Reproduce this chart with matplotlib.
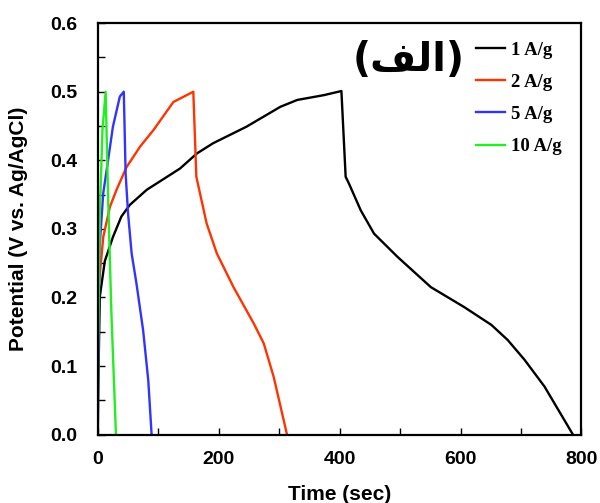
import numpy as np
import matplotlib
matplotlib.use("Agg")
import matplotlib.pyplot as plt
from matplotlib.ticker import MultipleLocator

# galvanostatic charge/discharge curves
t_1 = [0, 0.5, 3.3, 11.6, 25, 39, 53, 81, 136, 164, 191, 246, 302, 330, 374, 403,
       410, 415.5, 435, 457, 496, 551, 606, 651, 678, 706, 739, 786]
v_1 = [0, 0.055, 0.201, 0.253, 0.288, 0.318, 0.335, 0.357, 0.388, 0.41, 0.425, 0.449, 0.478, 0.488, 0.495, 0.501,
       0.376, 0.366, 0.327, 0.293, 0.259, 0.215, 0.186, 0.160, 0.138, 0.109, 0.070, 0.0]

t_2 = [0, 0.5, 9, 20, 31, 47.5, 70, 92, 125, 158,
       163, 169, 180, 197, 224.5, 258, 274.5, 291, 313]
v_2 = [0, 0.206, 0.288, 0.332, 0.357, 0.39, 0.42, 0.444, 0.485, 0.5,
       0.376, 0.352, 0.308, 0.264, 0.215, 0.162, 0.133, 0.084, 0.0]

t_5 = [0, 0.5, 3, 9, 17, 25, 36.5, 43, 46, 50, 56, 64, 75, 83.5, 89]
v_5 = [0, 0.08, 0.274, 0.352, 0.40, 0.449, 0.493, 0.5, 0.381, 0.323, 0.264, 0.22, 0.152, 0.079, 0.0]

t_10 = [0, 0.5, 3.3, 7.7, 13, 17, 22.5, 30]
v_10 = [0, 0.128, 0.32, 0.444, 0.5, 0.347, 0.177, 0.0]

labels = ["1 A/g", "2 A/g", "5 A/g", "10 A/g"]
colors = ["black", "#ff3300", "#3333ff", "#22ee22"]

fig = plt.figure(figsize=(6, 5.03), dpi=100)
ax = fig.add_axes([0.163, 0.136, 0.806, 0.818])

for t, v, lab, c in zip([t_1, t_2, t_5, t_10], [v_1, v_2, v_5, v_10], labels, colors):
    ax.plot(t, v, color=c, lw=1.7, label=lab)

ax.set_xlim(0, 800)
ax.set_ylim(0, 0.6)
ax.xaxis.set_major_locator(MultipleLocator(200))
ax.xaxis.set_minor_locator(MultipleLocator(100))
ax.yaxis.set_major_locator(MultipleLocator(0.1))
ax.yaxis.set_minor_locator(MultipleLocator(0.05))
ax.yaxis.set_major_formatter(matplotlib.ticker.FormatStrFormatter("%.1f"))
ax.tick_params(which="both", direction="in", length=5, width=1)
ax.tick_params(axis="x", pad=12)
ax.tick_params(axis="y", pad=15)
for lab in ax.get_xticklabels() + ax.get_yticklabels():
    lab.set_fontfamily("Liberation Sans")
    lab.set_fontweight("bold")
    lab.set_fontsize(14)
for s in ax.spines.values():
    s.set_linewidth(1.6)

ax.set_xlabel("Time (sec)", fontfamily="Liberation Sans", fontweight="bold", fontsize=15, labelpad=12)
ax.set_ylabel("Potential (V vs. Ag/AgCl)", fontfamily="Liberation Sans", fontweight="bold",
              fontsize=15, labelpad=16)

# Arabic label drawn with presentation forms in visual order
ax.text(0.643, 0.91, "(\uFED2\uFEDF\u0627)", transform=ax.transAxes, ha="center", va="center",
        fontsize=28.5, fontweight="bold", fontfamily="DejaVu Sans")

ax.legend(loc="upper left", bbox_to_anchor=(0.783, 0.955), frameon=False,
          prop={"family": "Liberation Serif", "weight": "bold", "size": 13.5},
          handlelength=1.5, handletextpad=0.35, labelspacing=0.8,
          borderpad=0, borderaxespad=0)

fig.savefig("out.png", dpi=100)
